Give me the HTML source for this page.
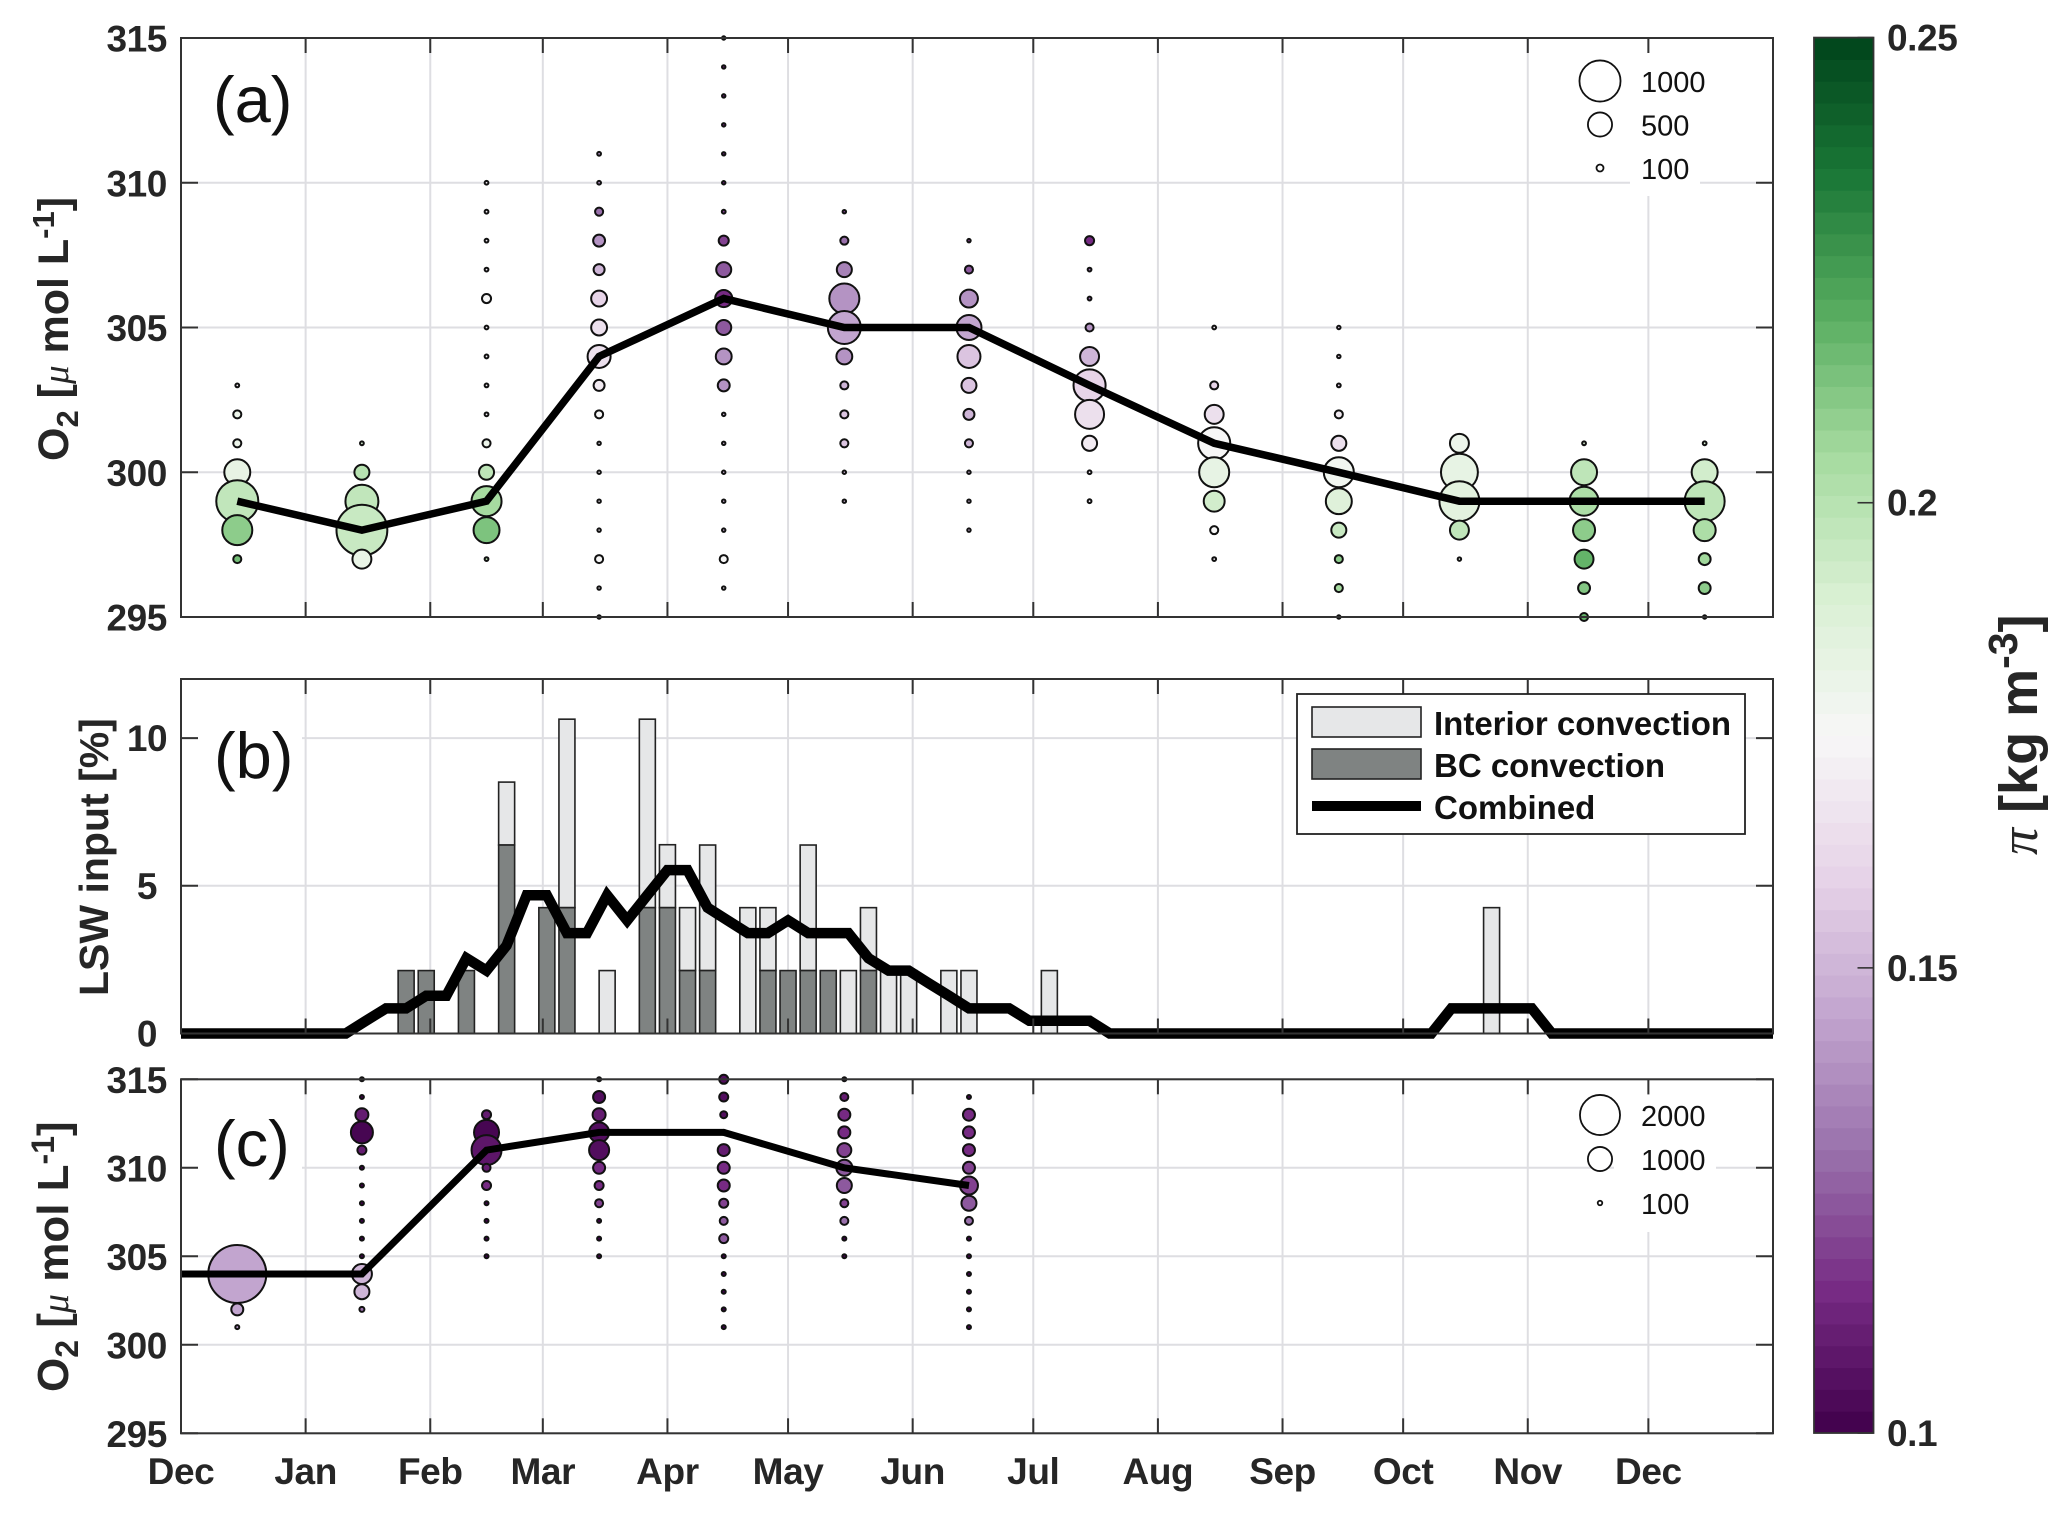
<!DOCTYPE html>
<html lang="en">
<head>
<meta charset="utf-8">
<title>O2 and LSW input seasonal cycle</title>
<style>
html,body{margin:0;padding:0;background:#fff;}
svg{display:block;font-family:"Liberation Sans",sans-serif;}
.tick-label{font-weight:700;font-size:37px;letter-spacing:-0.4px;fill:#262626;}
.axis-title{font-weight:700;fill:#262626;}
.panel-label{font-size:65px;fill:#111;}
.size-text{font-size:29px;fill:#111;}
.legend-text{font-weight:700;font-size:33px;fill:#111;}
</style>
</head>
<body>
<svg id="chart" xmlns="http://www.w3.org/2000/svg" width="2067" height="1514" viewBox="0 0 2067 1514">
  <rect x="0" y="0" width="2067" height="1514" fill="#fff"/>
  <g id="panel-a"></g>
  <g id="panel-b"></g>
  <g id="panel-c"></g>
  <g id="colorbar"></g>

  <text class="axis-title" font-size="43" transform="translate(68,461) rotate(-90)">O<tspan font-size="31" dy="10">2</tspan><tspan dy="-10"> [</tspan><tspan font-family="Liberation Serif" font-style="italic" font-weight="400" font-size="37">μ</tspan> mol L<tspan font-size="31" dy="-14">-1</tspan><tspan dy="14">]</tspan></text>
  <text class="axis-title" font-size="41" transform="translate(108,996) rotate(-90)">LSW input [%]</text>
  <text class="axis-title" font-size="44" transform="translate(68,1392) rotate(-90)">O<tspan font-size="32" dy="10">2</tspan><tspan dy="-10"> [</tspan><tspan font-family="Liberation Serif" font-style="italic" font-weight="400" font-size="38">μ</tspan> mol L<tspan font-size="32" dy="-14">-1</tspan><tspan dy="14">]</tspan></text>
  <text class="axis-title" font-size="54" transform="translate(2037,855) rotate(-90)"><tspan font-family="Liberation Serif" font-style="italic" font-weight="400">π</tspan> [kg m<tspan font-size="41" dy="-20">-3</tspan><tspan dy="20">]</tspan></text>
</svg>
<script>
// ---- shared axis data ----
const monthLabels = ['Dec','Jan','Feb','Mar','Apr','May','Jun','Jul','Aug','Sep','Oct','Nov','Dec'];
const monthStartDays = [0,31,62,90,121,151,182,212,243,274,304,335,365];
const totalDays = 396;
const midMonthOffset = 14;

// ---- panel (a) ----
const aTicks = [295,300,305,310,315];
const aTickLabels = ['295','300','305','310','315'];
const aMeanO2 = [299,298,299,304,306,305,305,303,301,300,299,299,299];
const aO2 = [
 [303,302,301,300,299,298,297],
 [301,300,299,298,297],
 [310,309,308,307,306,305,304,303,302,301,300,299,298,297],
 [311,310,309,308,307,306,305,304,303,302,301,300,299,298,297,296,295],
 [315,314,313,312,311,310,309,308,307,306,305,304,303,302,301,300,299,298,297,296],
 [309,308,307,306,305,304,303,302,301,300,299],
 [308,307,306,305,304,303,302,301,300,299,298],
 [308,307,306,305,304,303,302,301,300,299],
 [305,303,302,301,300,299,298,297],
 [305,304,303,302,301,300,299,298,297,296,295],
 [301,300,299,298,297],
 [301,300,299,298,297,296,295],
 [301,300,299,298,297,296,295]
];
const aCount = [
 [45,120,120,550,1030,665,120],
 [45,270,750,1320,365],
 [45,45,45,45,140,45,45,45,45,120,270,665,550,45],
 [45,45,120,200,180,290,290,470,180,120,40,40,40,40,120,40,40],
 [40,40,40,40,40,40,45,160,270,320,270,290,200,40,40,40,40,40,120,40],
 [40,120,270,665,750,290,120,120,120,40,40],
 [40,120,340,525,470,270,180,120,40,40,40],
 [140,45,45,120,365,725,635,270,45,45],
 [45,120,365,725,665,415,120,45],
 [40,40,45,120,270,665,550,270,120,120,40],
 [365,870,965,365,40],
 [45,550,635,445,365,200,120],
 [45,550,965,445,200,200,40]
];
const aPi = [
 [0.17,0.18,0.18,0.183,0.197,0.21,0.215],
 [0.19,0.2,0.197,0.195,0.182],
 [0.17,0.17,0.17,0.17,0.175,0.17,0.17,0.17,0.17,0.18,0.198,0.205,0.213,0.2],
 [0.14,0.14,0.13,0.14,0.15,0.16,0.165,0.165,0.17,0.175,0.17,0.17,0.17,0.17,0.175,0.17,0.17],
 [0.11,0.11,0.11,0.11,0.11,0.11,0.12,0.12,0.125,0.115,0.125,0.14,0.14,0.15,0.15,0.15,0.15,0.15,0.175,0.17],
 [0.12,0.13,0.135,0.14,0.145,0.14,0.15,0.155,0.155,0.15,0.15],
 [0.12,0.125,0.14,0.145,0.155,0.155,0.15,0.15,0.15,0.15,0.15],
 [0.115,0.13,0.13,0.14,0.15,0.16,0.165,0.17,0.17,0.17],
 [0.17,0.16,0.165,0.175,0.183,0.192,0.175,0.17],
 [0.16,0.16,0.16,0.17,0.165,0.178,0.187,0.195,0.21,0.205,0.21],
 [0.18,0.183,0.185,0.197,0.18],
 [0.19,0.198,0.203,0.21,0.218,0.212,0.218],
 [0.19,0.192,0.198,0.203,0.206,0.21,0.21]
];
const aLegendCounts = [1000,500,100];
const aLegendLabels = ['1000','500','100'];

// ---- panel (b) ----
const bTicks = [0,5,10];
const bTickLabels = ['0','5','10'];
const barDays = [56,61,71,81,91,96,106,116,121,126,131,141,146,151,156,161,166,171,176,181,191,196,216,326];
const barBC = [2.13,2.13,2.13,6.38,4.26,4.26,0,4.26,4.26,2.13,2.13,0,2.13,2.13,2.13,2.13,0,2.13,0,0,0,0,0,0];
const barInterior = [0,0,0,2.13,0,6.38,2.13,6.38,2.13,2.13,4.25,4.26,2.13,0,4.25,0,2.13,2.13,2.13,2.13,2.13,2.13,2.13,4.26];
const combinedDays = [0,41,46,51,56,61,66,71,76,81,86,91,96,101,106,111,116,121,126,131,136,141,146,151,156,161,166,171,176,181,186,191,196,201,206,211,216,221,226,231,311,316,321,326,331,336,341,396];
const combinedValues = [0,0,0.43,0.85,0.85,1.28,1.28,2.55,2.13,2.98,4.68,4.68,3.4,3.4,4.68,3.83,4.68,5.53,5.53,4.26,3.83,3.4,3.4,3.83,3.4,3.4,3.4,2.55,2.13,2.13,1.7,1.28,0.85,0.85,0.85,0.43,0.43,0.43,0.43,0,0,0.85,0.85,0.85,0.85,0.85,0,0];

// ---- panel (c) ----
const cTicks = [295,300,305,310,315];
const cTickLabels = ['295','300','305','310','315'];
const cMeanDays = [0,45,76,104,135,165,196];
const cMeanO2 = [304,304,311,312,312,310,309];
const cO2 = [
 [304,302,301],
 [315,314,313,312,311,310,309,308,307,306,305,304,303,302],
 [313,312,311,310,309,308,307,306,305],
 [315,314,313,312,311,310,309,308,307,306,305],
 [315,314,313,312,311,310,309,308,307,306,305,304,303,302,301],
 [315,314,313,312,311,310,309,308,307,306,305],
 [314,313,312,311,310,309,308,307,306,305,304,303,302,301]
];
const cCount = [
 [3320,384,85],
 [85,85,428,880,259,85,85,85,85,85,85,773,521,115],
 [259,1048,1343,220,259,85,85,85,85],
 [85,384,428,773,773,384,259,220,85,85,85],
 [259,259,183,115,384,384,384,259,220,259,85,85,85,85,85],
 [85,220,384,384,473,570,521,220,220,85,85],
 [85,384,384,384,384,668,521,220,85,85,85,85,85,85]
];
const cPi = [
 [0.145,0.145,0.14],
 [0.1,0.1,0.11,0.102,0.11,0.1,0.1,0.1,0.1,0.1,0.1,0.15,0.15,0.13],
 [0.11,0.102,0.108,0.11,0.115,0.1,0.1,0.1,0.1],
 [0.1,0.105,0.11,0.105,0.105,0.115,0.115,0.12,0.1,0.1,0.1],
 [0.105,0.105,0.105,0.1,0.11,0.115,0.115,0.12,0.125,0.125,0.1,0.1,0.1,0.1,0.1],
 [0.1,0.11,0.115,0.115,0.12,0.125,0.125,0.12,0.13,0.1,0.1],
 [0.1,0.115,0.115,0.115,0.12,0.12,0.125,0.13,0.1,0.1,0.1,0.1,0.1,0.1]
];
const cLegendCounts = [2000,1000,100];
const cLegendLabels = ['2000','1000','100'];

// ---- colour bar ----
const cbTicks = [0.1,0.15,0.2,0.25];
const cbTickLabels = ['0.1','0.15','0.2','0.25'];
const prgnColors = ['#40004b','#762a83','#9970ab','#c2a5cf','#e7d4e8','#f7f7f7','#d9f0d3','#a6dba0','#5aae61','#1b7837','#00441b'];

// ---- layout & scales ----
const NS = 'http://www.w3.org/2000/svg';
const left = 181, right = 1773;
const A = {top:38, bottom:617};
const B = {top:679, bottom:1033.5};
const C = {top:1079.3, bottom:1433.3};
const CB = {left:1814, right:1873.5, top:37.6, bottom:1433};
const xDay = d => left + (right-left)*d/totalDays;
const yA = v => A.bottom - (v-295)/20*(A.bottom-A.top);
const yB = v => B.bottom - v/12*(B.bottom-B.top);
const yC = v => C.bottom - (v-295)/20*(C.bottom-C.top);
const yCB = v => CB.bottom - (v-0.1)/0.15*(CB.bottom-CB.top);
const rA = n => 0.204*Math.pow(n,0.768)/2;
const rC = n => 0.156*Math.pow(n,0.73)/2;
function hexToRgb(h){return [1,3,5].map(i=>parseInt(h.substr(i,2),16));}
function piColor(p){
  const t = Math.max(0,Math.min(1,(p-0.1)/0.15))*(prgnColors.length-1);
  const i = Math.min(Math.floor(t),prgnColors.length-2), f = t-i;
  const a = hexToRgb(prgnColors[i]), b = hexToRgb(prgnColors[i+1]);
  return 'rgb('+a.map((v,k)=>Math.round(v+(b[k]-v)*f)).join(',')+')';
}
function svgEl(tag,attrs,parent,txt){
  const el = document.createElementNS(NS,tag);
  for(const k in attrs) el.setAttribute(k,attrs[k]);
  if(txt!==undefined) el.textContent = txt;
  parent.appendChild(el);
  return el;
}

function drawFrameBase(g,P,yFn,ticks){
  monthStartDays.forEach(d=>{
    const el = svgEl('line',{x1:xDay(d),x2:xDay(d),y1:P.top,y2:P.bottom,stroke:'#dedee2','stroke-width':2},g);
    
    
  });
  ticks.forEach(t=>{
    const el = svgEl('line',{x1:left,x2:right,y1:yFn(t),y2:yFn(t),stroke:'#dedee2','stroke-width':2},g);
    
    
  });
}
function drawFrameTop(g,P,yFn,ticks,labels,centered){
  monthStartDays.forEach(d=>{
    if(d===0) return;
    [[P.top,P.top+15],[P.bottom-15,P.bottom]].forEach(pair=>{
      const el = svgEl('line',{x1:xDay(d),x2:xDay(d),y1:pair[0],y2:pair[1],stroke:'#333','stroke-width':2},g);
      
      
    });
  });
  ticks.forEach((t,i)=>{
    const y = yFn(t);
    [[left,left+17],[right-17,right]].forEach(pair=>{
      const el = svgEl('line',{x1:pair[0],x2:pair[1],y1:y,y2:y,stroke:'#333','stroke-width':2},g);
      
      
    });
    const lab = centered
      ? svgEl('text',{x:147,y:y+13,'text-anchor':'middle','class':'tick-label'},g,labels[i])
      : svgEl('text',{x:left-14,y:y+13.5,'text-anchor':'end','class':'tick-label'},g,labels[i]);
    
    
  });
  const box = svgEl('rect',{x:left,y:P.top,width:right-left,height:P.bottom-P.top,fill:'none',stroke:'#333','stroke-width':2},g);
  
  
}
function drawBubbles(g,o2,counts,pis,yFn,rFn){
  o2.forEach((col,m)=>{
    const day = monthStartDays[m]+midMonthOffset;
    col.forEach((v,i)=>{
      const c = svgEl('circle',{cx:xDay(day),cy:yFn(v),r:rFn(counts[m][i]),fill:piColor(pis[m][i]),stroke:'#111','stroke-width':2},g);
      
      
    });
  });
}
function drawLine(g,xs,ys,width,name){
  const pts = xs.map((x,i)=>x.toFixed(1)+','+ys[i].toFixed(1)).join(' ');
  return svgEl('polyline',{points:pts,fill:'none',stroke:'#000','stroke-width':width,'stroke-linejoin':'miter','stroke-miterlimit':4},g);
}
function drawLabelRect(g,x,y,w,h){
  const el = svgEl('rect',{x:x,y:y,width:w,height:h,fill:'#fff'},g);
  
  
}

// panel a
const gA = document.getElementById('panel-a');
drawFrameBase(gA,A,yA,aTicks);
drawLabelRect(gA,1630,53,70,143);
drawBubbles(gA,aO2,aCount,aPi,yA,rA);
const aLine = drawLine(gA,aMeanO2.map((v,i)=>xDay(monthStartDays[i]+midMonthOffset)),aMeanO2.map(yA),7.5);


drawFrameTop(gA,A,yA,aTicks,aTickLabels,false);
const labelA = svgEl('text',{x:213,y:122,'class':'panel-label'},gA,'(a)');


aLegendCounts.forEach((n,i)=>{
  const y = 81+43.5*i;
  const c = svgEl('circle',{cx:1600,cy:y,r:rA(n),fill:'#fff',stroke:'#111','stroke-width':1.8},gA);
  
  
  const t = svgEl('text',{x:1641,y:y+11,'class':'size-text'},gA,aLegendLabels[i]);
  
  
});

// panel b
const gB = document.getElementById('panel-b');
drawFrameBase(gB,B,yB,bTicks);
drawLabelRect(gB,198,715,104,80);
barDays.forEach((d,i)=>{
  const x = xDay(d)-8, w = 16;
  if(barInterior[i]>0){
    const r = svgEl('rect',{x:x,y:yB(barBC[i]+barInterior[i]),width:w,height:yB(barBC[i])-yB(barBC[i]+barInterior[i]),fill:'#e6e7e8',stroke:'#222','stroke-width':1.6},gB);
    
    
  }
  if(barBC[i]>0){
    const r = svgEl('rect',{x:x,y:yB(barBC[i]),width:w,height:yB(0)-yB(barBC[i]),fill:'#7f8382',stroke:'#222','stroke-width':1.6},gB);
    
    
  }
});
const bLine = drawLine(gB,combinedDays.map(xDay),combinedValues.map(yB),10.5);


drawFrameTop(gB,B,yB,bTicks,bTickLabels,true);
const labelB = svgEl('text',{x:214,y:778,'class':'panel-label'},gB,'(b)');


const lb = svgEl('rect',{x:1297,y:694,width:448,height:140,fill:'#fff',stroke:'#222','stroke-width':1.8},gB);


const sw1 = svgEl('rect',{x:1312,y:707,width:109,height:30,fill:'#e6e7e8',stroke:'#222','stroke-width':1.6},gB);


const sw2 = svgEl('rect',{x:1312,y:749,width:109,height:30,fill:'#7f8382',stroke:'#222','stroke-width':1.6},gB);


const sw3 = svgEl('line',{x1:1312,x2:1421,y1:806,y2:806,stroke:'#000','stroke-width':10},gB);


const lt1 = svgEl('text',{x:1434,y:735,'class':'legend-text'},gB,'Interior convection');


const lt2 = svgEl('text',{x:1434,y:777,'class':'legend-text'},gB,'BC convection');


const lt3 = svgEl('text',{x:1434,y:819,'class':'legend-text'},gB,'Combined');



// panel c
const gC = document.getElementById('panel-c');
drawFrameBase(gC,C,yC,cTicks);
drawLabelRect(gC,198,1105,104,80);
drawLabelRect(gC,1614,1095,102,137);
drawBubbles(gC,cO2,cCount,cPi,yC,rC);
const cLine = drawLine(gC,cMeanDays.map(xDay),cMeanO2.map(yC),7);


drawFrameTop(gC,C,yC,cTicks,cTickLabels,false);
const labelC = svgEl('text',{x:214,y:1166,'class':'panel-label'},gC,'(c)');


cLegendCounts.forEach((n,i)=>{
  const y = 1115+44*i;
  const c = svgEl('circle',{cx:1600,cy:y,r:rC(n),fill:'#fff',stroke:'#111','stroke-width':1.8},gC);
  
  
  const t = svgEl('text',{x:1641,y:y+11,'class':'size-text'},gC,cLegendLabels[i]);
  
  
});
monthLabels.forEach((m,i)=>{
  const t = svgEl('text',{x:xDay(monthStartDays[i]),y:1484,'text-anchor':'middle','class':'tick-label'},gC,m);
  
  
});

// colour bar
const gCB = document.getElementById('colorbar');
const levels = 64;
for(let i=0;i<levels;i++){
  const v0 = 0.1+0.15*i/levels, v1 = 0.1+0.15*(i+1)/levels;
  const r = svgEl('rect',{x:CB.left,y:yCB(v1),width:CB.right-CB.left,height:yCB(v0)-yCB(v1)+0.5,fill:piColor((v0+v1)/2)},gCB);
  
  
}
const cbBox = svgEl('rect',{x:CB.left,y:CB.top,width:CB.right-CB.left,height:CB.bottom-CB.top,fill:'none',stroke:'#333','stroke-width':1.8},gCB);


cbTicks.forEach((v,i)=>{
  const y = yCB(v);
  const tk = svgEl('line',{x1:CB.right-16,x2:CB.right,y1:y,y2:y,stroke:'#333','stroke-width':1.6},gCB);
  
  
  const t = svgEl('text',{x:1887,y:y+13,'class':'tick-label'},gCB,cbTickLabels[i]);
  
  
});
</script>
</body>
</html>
